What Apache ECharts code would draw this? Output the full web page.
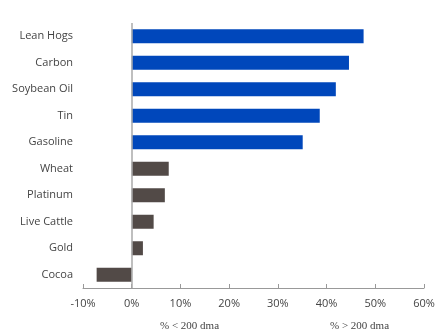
<!DOCTYPE html>
<html><head><meta charset="utf-8">
<script src="https://cdn.jsdelivr.net/npm/echarts@6/dist/echarts.min.js"></script>
<style>html,body{margin:0;padding:0;background:#fff}#c{width:440px;height:335px}</style>
</head><body><div id="c"></div>
<script>
const categories = ['Lean Hogs','Carbon','Soybean Oil','Tin','Gasoline','Wheat','Platinum','Live Cattle','Gold','Cocoa'];
const values = [47.6, 44.6, 41.9, 38.6, 35.1, 7.6, 6.8, 4.5, 2.3, -7.2];
const highlighted = ['Lean Hogs','Carbon','Soybean Oil','Tin','Gasoline'];
const xTicks = [-10, 0, 10, 20, 30, 40, 50, 60];

const chart = echarts.init(document.getElementById('c'));
chart.setOption({
  animation: false,
  grid: {left: 83, right: 16, top: 23, bottom: 47, containLabel: false},
  xAxis: {
    type: 'value', min: xTicks[0], max: xTicks[xTicks.length-1], interval: 10,
    axisLine: {show: true, lineStyle: {color: '#999', width: 1}},
    axisTick: {show: true, inside: true, length: 4, lineStyle: {color: '#999'}},
    splitLine: {show: false},
    axisLabel: {formatter: '{value}%', color: '#444', fontSize: 11, fontFamily: 'Open Sans', margin: 10}
  },
  yAxis: {
    type: 'category', data: categories, inverse: true,
    axisLine: {show: false}, axisTick: {show: false},
    axisLabel: {color: '#444', fontSize: 11, fontFamily: 'Open Sans', margin: 10}
  },
  series: [{
    type: 'bar', data: values, barWidth: 14,
    itemStyle: {color: p => highlighted.includes(p.name) ? '#0047bb' : '#524a47'},
    markLine: {
      silent: true, symbol: 'none', label: {show: false},
      lineStyle: {color: '#aaa', type: 'solid', width: 1.5},
      data: [{xAxis: 0}]
    }
  }],
  graphic: [
    {type: 'text', left: 160, top: 321, style: {text: '% < 200 dma', fill: '#444', font: '11px "Liberation Serif"'}},
    {type: 'text', left: 330, top: 321, style: {text: '% > 200 dma', fill: '#444', font: '11px "Liberation Serif"'}}
  ]
});
</script></body></html>
